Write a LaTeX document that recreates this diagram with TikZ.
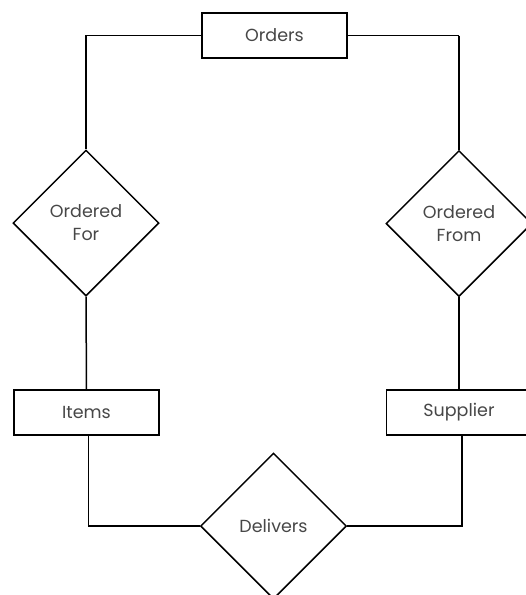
\documentclass[tikz,border=0pt]{standalone}
\usepackage{fontspec}
\setmainfont{Poppins}
\usetikzlibrary{shapes.geometric}
\tikzset{
  entity/.style={draw, line width=1.5pt, rectangle, minimum width=145pt, minimum height=45pt, inner sep=0pt, fill=white},
  relation/.style={draw, line width=1.5pt, diamond, aspect=1, minimum width=146pt, minimum height=146pt, inner sep=0pt, align=center},
  conn/.style={line width=1.5pt},
  thickconn/.style={line width=2.8pt},
  lbl/.style={font=\fontsize{17.5}{23}\selectfont, text=black!72}
}
\begin{document}
\begin{tikzpicture}[x=1pt,y=-1pt]
\useasboundingbox (0,0) rectangle (526,595);
\clip (0,0) rectangle (526,595);
\node[entity, lbl] (orders) at (274.5,35.5) {Orders};
\node[relation, lbl] (of) at (86,223) {Ordered\\For};
\node[relation, lbl] (ofr) at (459,223.5) {Ordered\\From};
\node[entity, lbl] (items) at (86.5,412.5) {Items};
\node[entity, lbl] (supplier) at (459,412.5) {Supplier};
\node[relation, lbl] (deliv) at (273.5,526) {Delivers};
\coordinate (tl) at (of.north |- orders.west);
\coordinate (tr) at (ofr.north |- orders.east);
\draw[conn] (orders.west) -- (tl) -- (of.north);
\draw[conn] (orders.east) -- (tr);
\draw[thickconn] (tr) -- (ofr.north);
\draw[conn] (of.south) -- (items.north);
\draw[thickconn] (ofr.south) -- (supplier.north);
\draw[conn] ([xshift=2pt]items.south) |- (deliv.west);
\draw[conn] ([xshift=3pt]supplier.south) |- (deliv.east);
\end{tikzpicture}
\end{document}
